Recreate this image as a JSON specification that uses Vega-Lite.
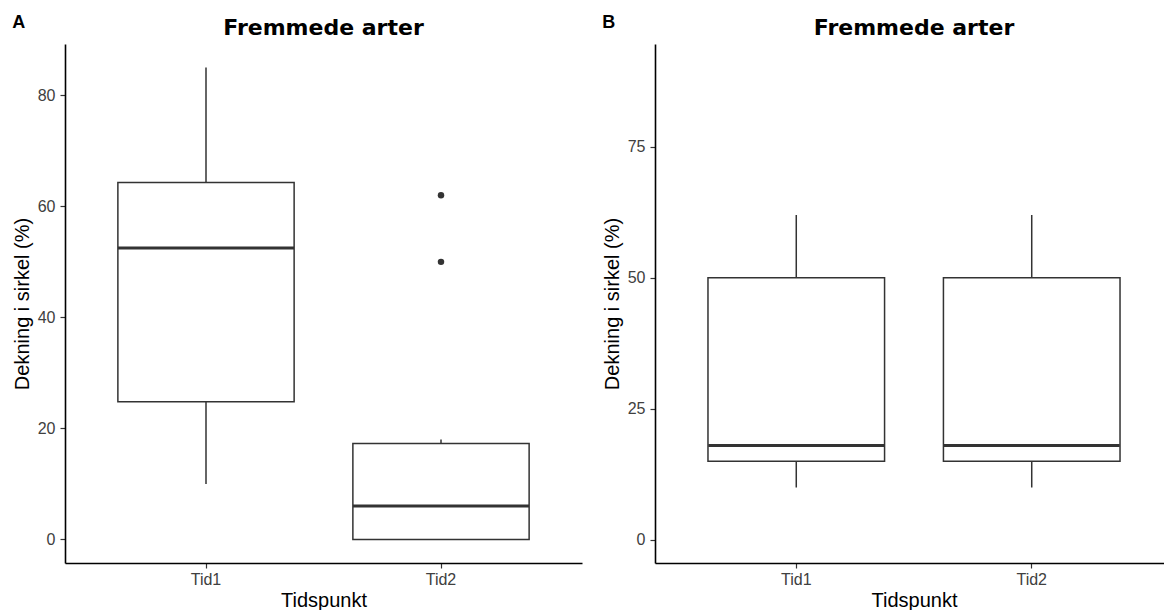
{
  "$schema": "https://vega.github.io/schema/vega-lite/v6.json",
  "padding": {"left": 12, "top": 14, "right": 0, "bottom": 0},
  "background": "white",
  "spacing": 20,
  "datasets": {
    "boxes": [
      {"panel": "A", "tid": "Tid1", "lower": 10, "q1": 24.8, "median": 52.5, "q3": 64.3, "upper": 85},
      {"panel": "A", "tid": "Tid2", "lower": 0, "q1": 0, "median": 6, "q3": 17.3, "upper": 18},
      {"panel": "B", "tid": "Tid1", "lower": 10, "q1": 15, "median": 18, "q3": 50, "upper": 62},
      {"panel": "B", "tid": "Tid2", "lower": 10, "q1": 15, "median": 18, "q3": 50, "upper": 62}
    ],
    "outliers": [
      {"panel": "A", "tid": "Tid2", "value": 50},
      {"panel": "A", "tid": "Tid2", "value": 62}
    ]
  },
  "hconcat": [
    {
      "title": {"text": "A", "font": "Liberation Sans", "fontSize": 18, "fontWeight": "bold", "anchor": "start", "offset": 2, "dy": 17, "color": "black"},
      "hconcat": [
        {
          "width": 517,
          "height": 519,
          "title": {"text": "Fremmede arter", "font": "DejaVu Sans", "fontSize": 22, "fontWeight": "bold", "anchor": "middle", "offset": 5, "dy": 1, "color": "black"},
          "encoding": {
            "x": {"field": "tid", "type": "nominal", "title": "Tidspunkt", "scale": {"paddingInner": 0.25, "paddingOuter": 0.225}}
          },
          "layer": [
            {
              "data": {"name": "boxes"},
              "transform": [{"filter": "datum.panel === 'A'"}],
              "mark": {"type": "rule", "color": "#333333", "strokeWidth": 1.5},
              "encoding": {
                "y": {"field": "lower", "type": "quantitative", "title": "Dekning i sirkel (%)", "scale": {"domain": [-4.25, 89.25], "nice": false, "zero": false}, "axis": {"values": [0, 20, 40, 60, 80]}},
                "y2": {"field": "upper"}
              }
            },
            {
              "data": {"name": "boxes"},
              "transform": [{"filter": "datum.panel === 'A'"}],
              "mark": {"type": "bar", "fill": "white", "stroke": "#333333", "strokeWidth": 1.5},
              "encoding": {
                "y": {"field": "q1", "type": "quantitative"},
                "y2": {"field": "q3"}
              }
            },
            {
              "data": {"name": "boxes"},
              "transform": [{"filter": "datum.panel === 'A'"}],
              "mark": {"type": "tick", "color": "#333333", "thickness": 3, "size": 176, "opacity": 1},
              "encoding": {
                "y": {"field": "median", "type": "quantitative"}
              }
            },
            {
              "data": {"name": "outliers"},
              "transform": [{"filter": "datum.panel === 'A'"}],
              "mark": {"type": "point", "filled": true, "color": "#333333", "size": 42, "opacity": 1},
              "encoding": {
                "y": {"field": "value", "type": "quantitative"}
              }
            }
          ]
        }
      ]
    },
    {
      "title": {"text": "B", "font": "Liberation Sans", "fontSize": 18, "fontWeight": "bold", "anchor": "start", "offset": 2, "dy": 17, "color": "black"},
      "hconcat": [
        {
          "width": 518,
          "height": 519,
          "title": {"text": "Fremmede arter", "font": "DejaVu Sans", "fontSize": 22, "fontWeight": "bold", "anchor": "middle", "offset": 5, "dy": 1, "color": "black"},
          "encoding": {
            "x": {"field": "tid", "type": "nominal", "title": "Tidspunkt", "scale": {"paddingInner": 0.25, "paddingOuter": 0.225}}
          },
          "layer": [
            {
              "data": {"name": "boxes"},
              "transform": [{"filter": "datum.panel === 'B'"}],
              "mark": {"type": "rule", "color": "#333333", "strokeWidth": 1.5},
              "encoding": {
                "y": {"field": "lower", "type": "quantitative", "title": "Dekning i sirkel (%)", "scale": {"domain": [-4.4, 94.6], "nice": false, "zero": false}, "axis": {"values": [0, 25, 50, 75]}},
                "y2": {"field": "upper"}
              }
            },
            {
              "data": {"name": "boxes"},
              "transform": [{"filter": "datum.panel === 'B'"}],
              "mark": {"type": "bar", "fill": "white", "stroke": "#333333", "strokeWidth": 1.5},
              "encoding": {
                "y": {"field": "q1", "type": "quantitative"},
                "y2": {"field": "q3"}
              }
            },
            {
              "data": {"name": "boxes"},
              "transform": [{"filter": "datum.panel === 'B'"}],
              "mark": {"type": "tick", "color": "#333333", "thickness": 3, "size": 176, "opacity": 1},
              "encoding": {
                "y": {"field": "median", "type": "quantitative"}
              }
            }
          ]
        }
      ]
    }
  ],
  "config": {
    "view": {"stroke": null},
    "axis": {
      "grid": false,
      "domainColor": "black",
      "domainWidth": 1.6,
      "tickColor": "#333333",
      "tickSize": 5,
      "tickWidth": 1.2,
      "labelFont": "Liberation Sans",
      "labelFontSize": 16,
      "labelColor": "#404040",
      "labelPadding": 5,
      "titleFont": "Liberation Sans",
      "titleFontSize": 20,
      "titleFontWeight": "normal",
      "titleColor": "black"
    },
    "axisX": {"labelAngle": 0, "labelPadding": 3, "titlePadding": 3},
    "axisY": {"titlePadding": 5}
  }
}
